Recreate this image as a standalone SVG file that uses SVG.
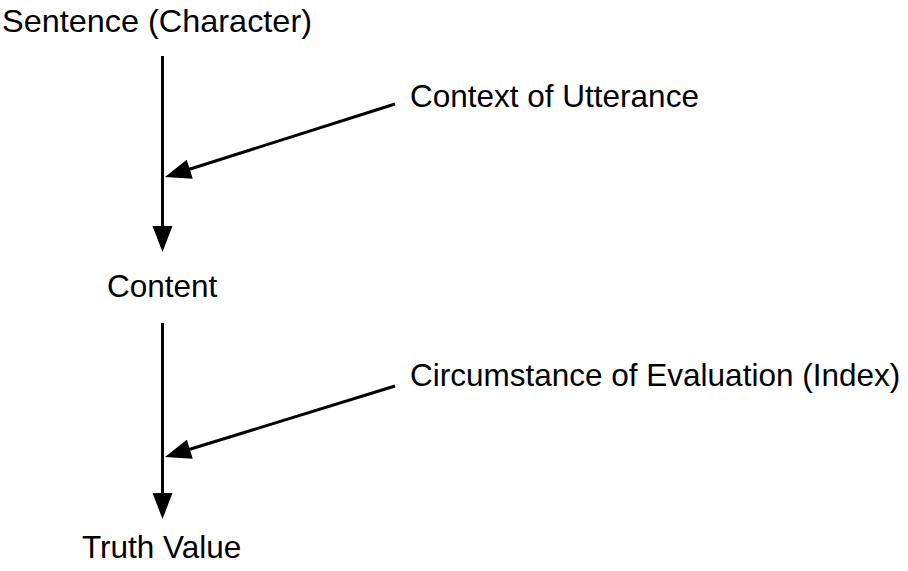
<svg xmlns="http://www.w3.org/2000/svg" width="908" height="571" viewBox="0 0 908 571">
<style>
text{font-family:"Liberation Sans",Arial,sans-serif;font-size:31.5px;fill:#000}
.c{stroke:#000;stroke-width:3;fill:none}
</style>
<defs>
<marker id="ah" markerUnits="userSpaceOnUse" markerWidth="26" markerHeight="20" refX="16" refY="10" orient="auto" overflow="visible">
<path d="M0,0 L26,10 L0,20 z" fill="#000"/>
</marker>
</defs>
<rect width="908" height="571" fill="#fff"/>
<g id="connectors">
<line class="c" x1="162.5" y1="56" x2="162.5" y2="242" marker-end="url(#ah)"/>
<line class="c" x1="395" y1="104" x2="174.5" y2="174" marker-end="url(#ah)"/>
<line class="c" x1="162.5" y1="323" x2="162.5" y2="509" marker-end="url(#ah)"/>
<line class="c" x1="395" y1="386" x2="174.5" y2="454" marker-end="url(#ah)"/>
</g>
<g id="sentence"><text x="2" y="32" textLength="310" lengthAdjust="spacingAndGlyphs">Sentence (Character)</text></g>
<g id="context"><text x="410" y="107">Context of Utterance</text></g>
<g id="content"><text x="107" y="297">Content</text></g>
<g id="circumstance"><text x="410" y="386">Circumstance of Evaluation (Index)</text></g>
<g id="truth"><text x="82" y="558">Truth Value</text></g>
</svg>
